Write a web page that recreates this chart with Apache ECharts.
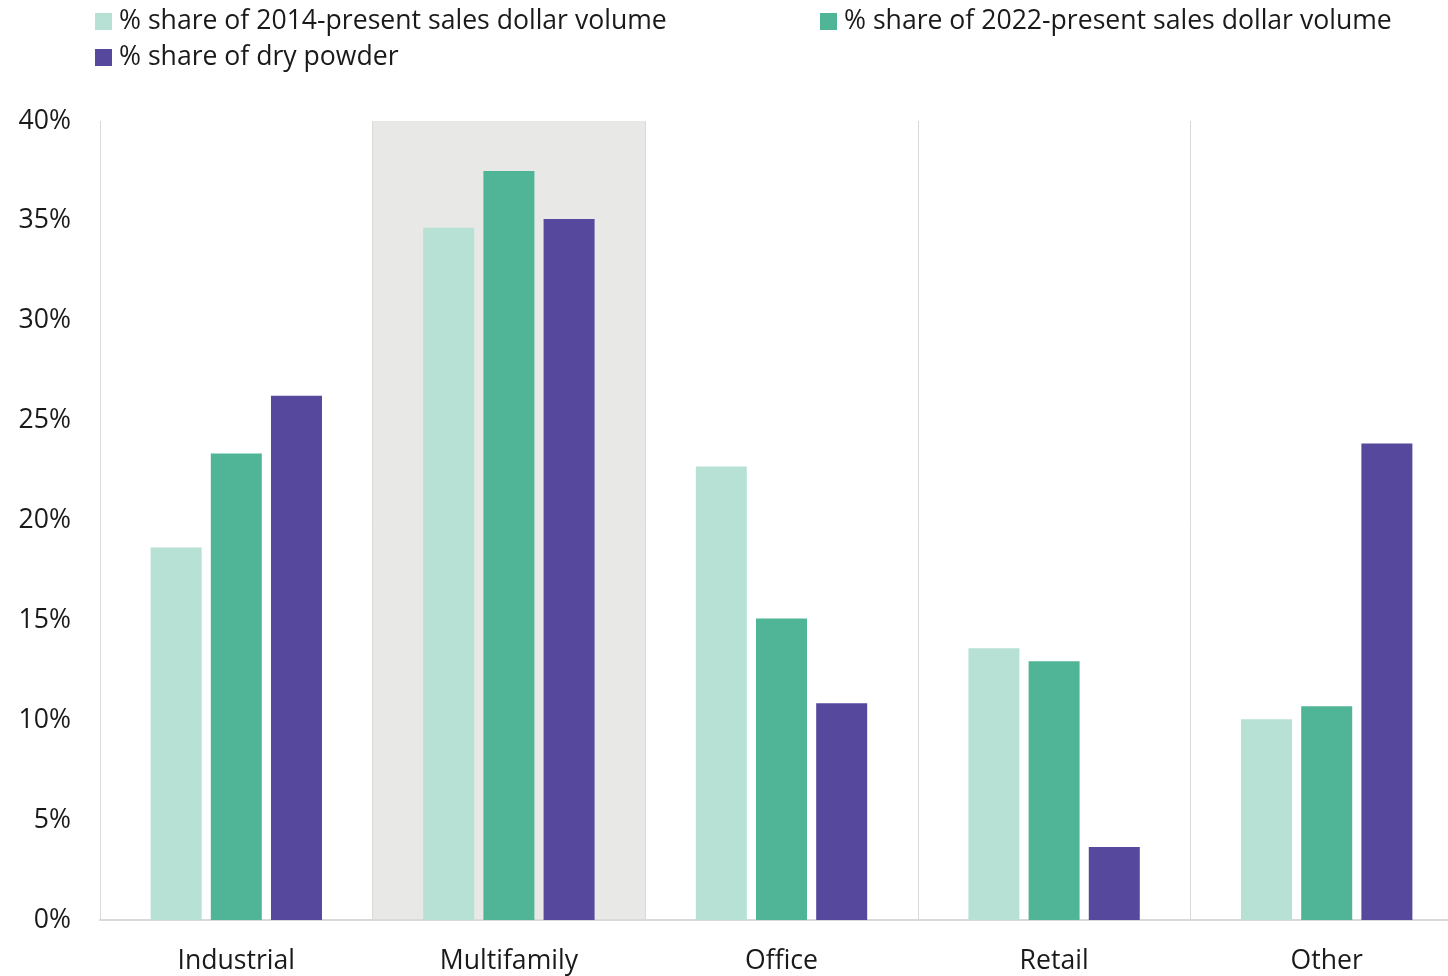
<!DOCTYPE html>
<html>
<head>
<meta charset="utf-8">
<script src="https://cdn.jsdelivr.net/npm/echarts@6/dist/echarts.min.js"></script>
<style>
html,body{margin:0;padding:0;background:#fff;overflow:hidden;}
#chart{width:1463px;height:976px;}
</style>
</head>
<body>
<div id="chart"></div>
<script>
const categories = ['Industrial', 'Multifamily', 'Office', 'Retail', 'Other'];
const seriesNames = [
  '% share of 2014-present sales dollar volume',
  '% share of 2022-present sales dollar volume',
  '% share of dry powder'
];
const share2014 = [18.65, 34.65, 22.7, 13.6, 10.05];
const share2022 = [23.35, 37.5, 15.1, 12.95, 10.7];
const dryPowder = [26.25, 35.1, 10.85, 3.65, 23.85];
const yTicks = [0, 5, 10, 15, 20, 25, 30, 35, 40];

const colors = ['#b7e1d5', '#4fb596', '#56489c'];
const font = '"Open Sans", "Noto Sans", sans-serif';

const chart = echarts.init(document.getElementById('chart'));
const legendText = { fontFamily: font, fontSize: 26.6, color: '#1a1a1a', padding: [0, 0, 0, 2] };
const legendBase = { icon: 'rect', itemWidth: 17, itemHeight: 17, textStyle: legendText, padding: [5, 5] };
chart.setOption({
  animation: false,
  legend: [
    Object.assign({ data: [seriesNames[0]], left: 90, top: 3 }, legendBase),
    Object.assign({ data: [seriesNames[1]], left: 815, top: 3 }, legendBase),
    Object.assign({ data: [seriesNames[2]], left: 90, top: 39 }, legendBase)
  ],
  grid: { left: 100, right: 0, top: 121, bottom: 56, containLabel: false },
  xAxis: {
    type: 'category',
    data: categories,
    axisLine: { show: true, lineStyle: { color: '#d9d9d9', width: 2 } },
    axisTick: { show: false },
    axisLabel: { fontFamily: font, fontSize: 26.6, color: '#1a1a1a', margin: 28 },
    splitLine: { show: true, interval: 0, lineStyle: { color: '#d9d9d9', width: 1 } },
    splitArea: {
      show: true, interval: 0,
      areaStyle: { color: ['rgba(0,0,0,0)', '#e8e8e6', 'rgba(0,0,0,0)', 'rgba(0,0,0,0)', 'rgba(0,0,0,0)'] }
    }
  },
  yAxis: {
    type: 'value',
    min: yTicks[0],
    max: yTicks[yTicks.length - 1],
    interval: 5,
    axisLine: { show: false },
    axisTick: { show: false },
    splitLine: { show: false },
    axisLabel: { fontFamily: font, fontSize: 26.6, color: '#1a1a1a', margin: 29, formatter: v => v + '%' }
  },
  series: [
    { name: seriesNames[0], type: 'bar', data: share2014, barWidth: 51, barGap: '18%', itemStyle: { color: colors[0] } },
    { name: seriesNames[1], type: 'bar', data: share2022, barWidth: 51, barGap: '18%', itemStyle: { color: colors[1] } },
    { name: seriesNames[2], type: 'bar', data: dryPowder, barWidth: 51, barGap: '18%', itemStyle: { color: colors[2] } }
  ]
});
</script>
</body>
</html>
